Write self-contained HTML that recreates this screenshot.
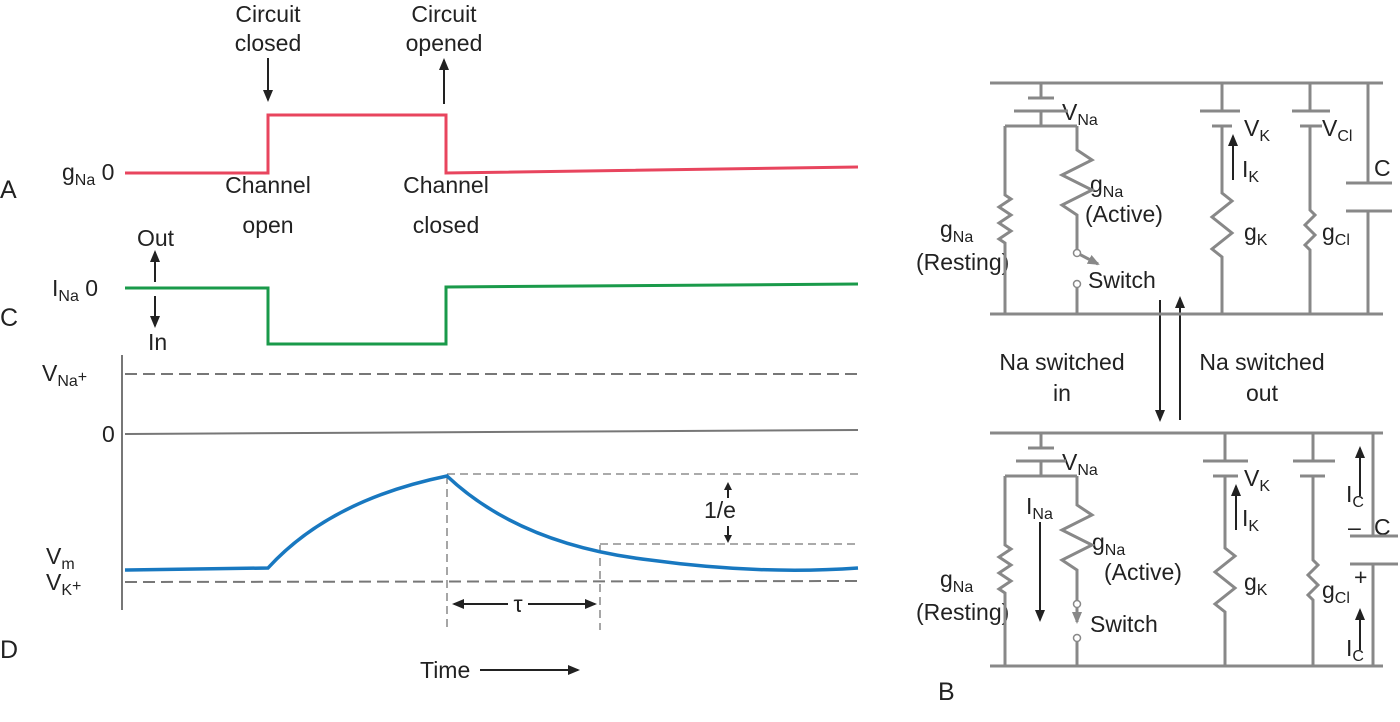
<!DOCTYPE html><html><head><style>body{margin:0;background:#fff}svg{display:block}text{font-family:"Liberation Sans",sans-serif;fill:#222}</style></head><body>
<svg width="1400" height="722" viewBox="0 0 1400 722" xmlns="http://www.w3.org/2000/svg">
<defs><marker id="a" markerWidth="8" markerHeight="8" refX="6" refY="4" orient="auto" markerUnits="userSpaceOnUse" viewBox="0 0 8 8"><path d="M0,0L8,4L0,8z" fill="#222"/></marker>
<marker id="g" markerWidth="12" markerHeight="10" refX="10" refY="5" orient="auto" markerUnits="userSpaceOnUse"><path d="M0,0L12,5L0,10z" fill="#222"/></marker>
<marker id="gg" markerWidth="12" markerHeight="10" refX="10" refY="5" orient="auto" markerUnits="userSpaceOnUse"><path d="M0,0L12,5L0,10z" fill="#888"/></marker></defs>
<g font-size="23">
<text x="268" y="22" text-anchor="middle">Circuit</text><text x="268" y="51" text-anchor="middle">closed</text>
<text x="444" y="22" text-anchor="middle">Circuit</text><text x="444" y="51" text-anchor="middle">opened</text>
<text x="268" y="193" text-anchor="middle">Channel</text><text x="268" y="233" text-anchor="middle">open</text>
<text x="446" y="193" text-anchor="middle">Channel</text><text x="446" y="233" text-anchor="middle">closed</text>
<text x="62" y="180">g<tspan font-size="16" dy="5">Na</tspan><tspan dy="-5"> 0</tspan></text>
<text x="52" y="296">I<tspan font-size="16" dy="5">Na</tspan><tspan dy="-5">  0</tspan></text>
<text x="137" y="246">Out</text><text x="148" y="350">In</text>
<text x="42" y="381">V<tspan font-size="16" dy="5">Na</tspan><tspan font-size="16" dy="-4">+</tspan></text>
<text x="102" y="442">0</text>
<text x="46" y="564">V<tspan font-size="16" dy="5">m</tspan></text>
<text x="46" y="590">V<tspan font-size="16" dy="5">K</tspan><tspan font-size="16" dy="-4">+</tspan></text>
<text x="704" y="518">1/e</text><text x="518" y="612" text-anchor="middle">τ</text>
<text x="420" y="678">Time</text>
<text x="0" y="198" font-size="25">A</text><text x="0" y="326" font-size="25">C</text><text x="0" y="658" font-size="25">D</text><text x="938" y="700" font-size="25">B</text>
</g>
<g stroke="#222" stroke-width="2" fill="none">
<line x1="268" y1="58" x2="268" y2="100" marker-end="url(#g)"/><line x1="444" y1="104" x2="444" y2="60" marker-end="url(#g)"/>
<line x1="155" y1="282" x2="155" y2="252" marker-end="url(#g)"/><line x1="155" y1="296" x2="155" y2="326" marker-end="url(#g)"/>
<line x1="528" y1="604" x2="595" y2="604" marker-end="url(#g)"/><line x1="508" y1="604" x2="454" y2="604" marker-end="url(#g)"/>
<line x1="728" y1="498" x2="728" y2="484" marker-end="url(#a)"/><line x1="728" y1="526" x2="728" y2="541" marker-end="url(#a)"/>
<line x1="480" y1="670" x2="578" y2="670" marker-end="url(#g)"/>
</g>
<path d="M125,173H268V115H446V173L858,167" stroke="#e8455e" stroke-width="3" fill="none"/>
<path d="M125,288H268V344H446V287L858,284" stroke="#1a9a4a" stroke-width="3" fill="none"/>
<g stroke="#777" stroke-width="2" fill="none">
<line x1="122" y1="355" x2="122" y2="610"/>
<line x1="125" y1="434" x2="858" y2="430"/>
<g stroke-dasharray="12,6"><line x1="125" y1="374" x2="858" y2="374"/><line x1="125" y1="582" x2="858" y2="581"/></g>
<g stroke-dasharray="8,5" stroke-width="1.3"><line x1="447" y1="476" x2="447" y2="630"/><line x1="600" y1="545" x2="600" y2="630"/><line x1="447" y1="474" x2="858" y2="474"/><line x1="600" y1="544" x2="858" y2="544"/></g>
</g>
<path d="M125,570L268,568Q330,500 447,476Q520,545 650,560Q760,575 858,568" stroke="#1878c0" stroke-width="3.5" fill="none"/>
<g font-size="23">
<text x="1062" y="120">V<tspan font-size="16" dy="5">Na</tspan></text><text x="1090" y="192">g<tspan font-size="16" dy="5">Na</tspan></text><text x="1085" y="222">(Active)</text>
<text x="940" y="237">g<tspan font-size="16" dy="5">Na</tspan></text><text x="916" y="270">(Resting)</text>
<text x="1088" y="288">Switch</text><text x="1244" y="136">V<tspan font-size="16" dy="5">K</tspan></text><text x="1242" y="177">I<tspan font-size="16" dy="5">K</tspan></text>
<text x="1244" y="240">g<tspan font-size="16" dy="5">K</tspan></text><text x="1322" y="136">V<tspan font-size="16" dy="5">Cl</tspan></text><text x="1322" y="240">g<tspan font-size="16" dy="5">Cl</tspan></text><text x="1374" y="176">C</text>
<text x="1062" y="370" text-anchor="middle">Na switched</text><text x="1062" y="401" text-anchor="middle">in</text>
<text x="1262" y="370" text-anchor="middle">Na switched</text><text x="1262" y="401" text-anchor="middle">out</text>
<text x="1062" y="470">V<tspan font-size="16" dy="5">Na</tspan></text><text x="1026" y="514">I<tspan font-size="16" dy="5">Na</tspan></text>
<text x="1092" y="550">g<tspan font-size="16" dy="5">Na</tspan></text><text x="1104" y="580">(Active)</text>
<text x="940" y="587">g<tspan font-size="16" dy="5">Na</tspan></text><text x="916" y="620">(Resting)</text><text x="1090" y="632">Switch</text>
<text x="1244" y="486">V<tspan font-size="16" dy="5">K</tspan></text><text x="1242" y="526">I<tspan font-size="16" dy="5">K</tspan></text><text x="1244" y="590">g<tspan font-size="16" dy="5">K</tspan></text>
<text x="1322" y="598">g<tspan font-size="16" dy="5">Cl</tspan></text><text x="1346" y="502">I<tspan font-size="16" dy="5">C</tspan></text><text x="1346" y="656">I<tspan font-size="16" dy="5">C</tspan></text>
<text x="1374" y="535">C</text><text x="1348" y="535">–</text><text x="1354" y="585">+</text>
</g>
<g stroke="#222" stroke-width="2" fill="none">
<line x1="1160" y1="300" x2="1160" y2="420" marker-end="url(#g)"/><line x1="1180" y1="420" x2="1180" y2="298" marker-end="url(#g)"/>
<line x1="1233" y1="180" x2="1233" y2="136" marker-end="url(#g)"/><line x1="1236" y1="530" x2="1236" y2="486" marker-end="url(#g)"/>
<line x1="1040" y1="522" x2="1040" y2="620" marker-end="url(#g)"/>
<line x1="1360" y1="496" x2="1360" y2="448" marker-end="url(#g)"/><line x1="1360" y1="650" x2="1360" y2="610" marker-end="url(#g)"/>
</g>
<g stroke="#888" stroke-width="3" fill="none">
<path d="M990,83H1383M990,314H1383M1041,83V98M1028,98H1054M1014,111H1068M1041,111V126M1005,126H1077M1005,126V195l6,4l-12,8l12,8l-12,8l12,8l-12,8l6,4V314M1077,126V150l15,10l-30,15l30,15l-30,15l15,10V250M1077,286V314"/>
<path d="M1222,83V111M1200,111H1240M1212,126H1232M1222,126V193l10,8l-20,16l20,16l-20,16l10,8V314"/>
<path d="M1310,83V111M1292,111H1330M1300,126H1322M1310,126V210l5,5l-10,10l10,10l-10,10l5,5V314"/>
<path d="M1368,83V183M1346,183H1392M1346,211H1392M1368,211V314"/>
<line x1="1079" y1="254" x2="1098" y2="264" marker-end="url(#gg)"/>
<path d="M990,433H1383M990,666H1383M1041,433V448M1028,448H1054M1016,461H1066M1041,461V476M1005,476H1077M1005,476V545l6,4l-12,8l12,8l-12,8l12,8l-12,8l6,4V666M1077,476V505l15,10l-30,15l30,15l-30,15l15,10V600M1077,638V666"/>
<path d="M1225,433V461M1203,461H1248M1213,476H1238M1225,476V548l10,8l-20,16l20,16l-20,16l10,8V666"/>
<path d="M1313,433V461M1293,461H1335M1300,476H1325M1313,476V560l5,5l-10,10l10,10l-10,10l5,5V666"/>
<path d="M1373,433V536M1350,536H1398M1350,564H1398M1373,564V666"/>
<line x1="1077" y1="606" x2="1077" y2="622" marker-end="url(#gg)"/>
</g>
<g fill="#fff" stroke="#888" stroke-width="1.5"><circle cx="1077" cy="253" r="3.5"/><circle cx="1077" cy="284" r="3.5"/><circle cx="1077" cy="604" r="3.5"/><circle cx="1077" cy="638" r="3.5"/></g>
</svg></body></html>
